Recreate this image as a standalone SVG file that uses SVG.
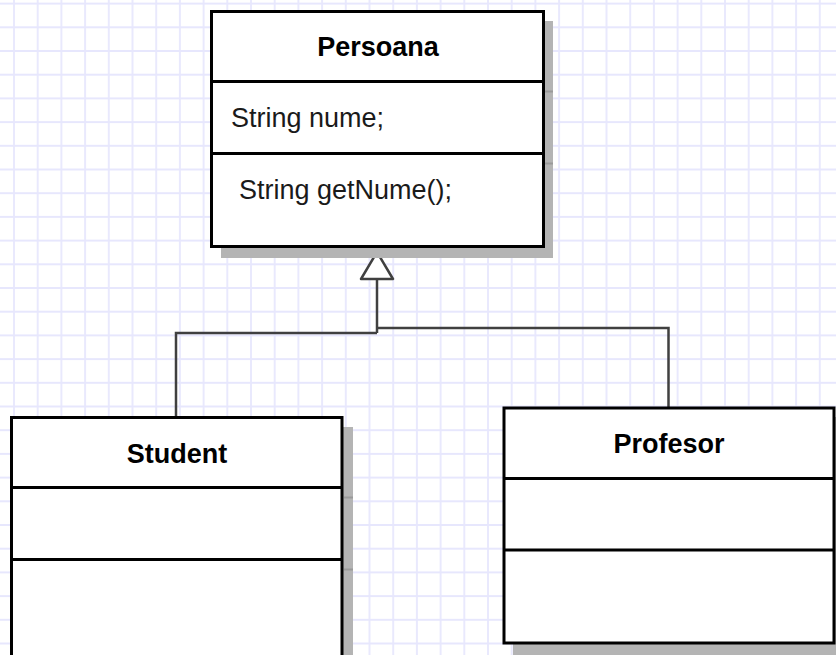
<svg xmlns="http://www.w3.org/2000/svg" width="836" height="655" viewBox="0 0 836 655">
  <defs>
    <!-- background grid, 23.7px cells -->
    <pattern id="grid" patternUnits="userSpaceOnUse" x="2.15" y="-8.25" width="23.7" height="23.7">
      <path d="M11.85,0 V23.7 M0,11.85 H23.7" fill="none" stroke="#e7e7fd" stroke-width="1.8"/>
    </pattern>
    <!-- hollow triangle for generalization -->
    <marker id="inherit" markerUnits="userSpaceOnUse" orient="auto" refX="0" refY="0"
            markerWidth="40" markerHeight="40" viewBox="-4 -20 40 40" overflow="visible">
      <path d="M0,-16 L27,0 L0,16 Z" fill="#ffffff" stroke="#404040" stroke-width="2.5" stroke-linejoin="round"/>
    </marker>
    <style>
      .shadow { fill: #b4b4b4; }
      .shadow-line { stroke: #9a9a9a; stroke-width: 2; }
      .box { fill: #ffffff; stroke: #000000; stroke-width: 3; }
      .div { stroke: #000000; stroke-width: 3; }
      .title { font-family: "Liberation Sans", Arial, sans-serif; font-size: 27px; font-weight: bold; fill: #000000; text-anchor: middle; }
      .member { font-family: "Liberation Sans", Arial, sans-serif; font-size: 27px; fill: #1a1a1a; }
      .edge { fill: none; stroke: #404040; stroke-width: 2.5; }
    </style>
  </defs>

  <rect x="0" y="0" width="836" height="655" fill="#ffffff"/>
  <rect x="0" y="0" width="836" height="655" fill="url(#grid)"/>

  <!-- generalization connectors -->
  <g id="connectors">
    <path class="edge" d="M176,417 V333 H377"/>
    <path class="edge" d="M668.5,408 V328 H377"/>
    <path class="edge" d="M377,333 V279" marker-end="url(#inherit)"/>
  </g>

  <!-- class Persoana -->
  <g id="persoana">
    <rect class="shadow" x="221" y="21" width="332" height="237"/>
    <line class="shadow-line" x1="545" y1="91.5" x2="553" y2="91.5"/>
    <line class="shadow-line" x1="545" y1="163.5" x2="553" y2="163.5"/>
    <rect class="box" x="211.5" y="11.5" width="332" height="235"/>
    <line class="div" x1="211.5" y1="81.5" x2="543.5" y2="81.5"/>
    <line class="div" x1="211.5" y1="153.5" x2="543.5" y2="153.5"/>
    <text class="title" x="378" y="56">Persoana</text>
    <text class="member" x="231" y="127">String nume;</text>
    <text class="member" x="239" y="199">String getNume();</text>
  </g>

  <!-- class Student -->
  <g id="student">
    <rect class="shadow" x="21" y="427" width="332" height="250"/>
    <line class="shadow-line" x1="344" y1="497.5" x2="353" y2="497.5"/>
    <line class="shadow-line" x1="344" y1="569.5" x2="353" y2="569.5"/>
    <rect class="box" x="11.5" y="417.5" width="330.5" height="250"/>
    <line class="div" x1="11.5" y1="487.5" x2="342" y2="487.5"/>
    <line class="div" x1="11.5" y1="559.5" x2="342" y2="559.5"/>
    <text class="title" x="177" y="463">Student</text>
  </g>

  <!-- class Profesor -->
  <g id="profesor">
    <rect class="shadow" x="513" y="417" width="332" height="245"/>
    <rect class="box" x="504" y="408" width="330" height="235"/>
    <line class="div" x1="504" y1="478.5" x2="834" y2="478.5"/>
    <line class="div" x1="504" y1="550" x2="834" y2="550"/>
    <text class="title" x="669" y="453">Profesor</text>
  </g>
</svg>
